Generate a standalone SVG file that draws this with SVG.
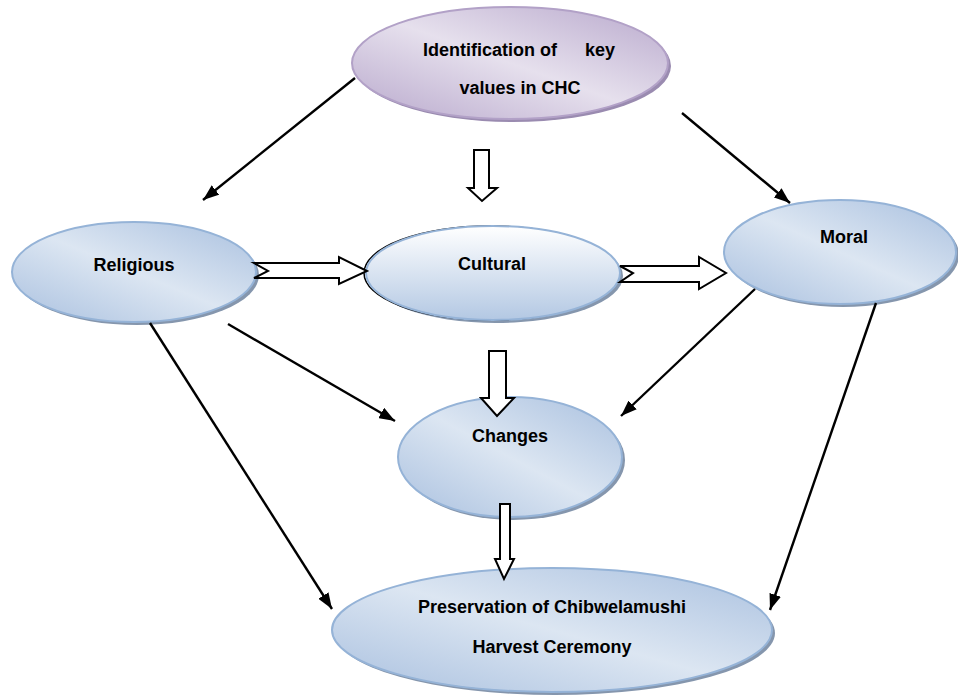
<svg xmlns="http://www.w3.org/2000/svg" width="958" height="697" viewBox="0 0 958 697">
<defs>
<linearGradient id="gBlue" x1="0" y1="1" x2="1" y2="0">
<stop offset="0" stop-color="#a9c0df"/>
<stop offset="0.5" stop-color="#dce6f2"/>
<stop offset="1" stop-color="#a9c0df"/>
</linearGradient>
<linearGradient id="gPurple" x1="0" y1="1" x2="1" y2="0">
<stop offset="0" stop-color="#b8a8cc"/>
<stop offset="0.5" stop-color="#e6e0ed"/>
<stop offset="1" stop-color="#b8a8cc"/>
</linearGradient>
<linearGradient id="gCult" x1="0" y1="0" x2="0" y2="1">
<stop offset="0" stop-color="#ffffff"/>
<stop offset="1" stop-color="#b3c8e3"/>
</linearGradient>
<marker id="ah" viewBox="0 0 16 12" refX="16" refY="6" markerWidth="16" markerHeight="12" markerUnits="userSpaceOnUse" orient="auto">
<path d="M0,0 L16,6 L0,12 Z" fill="#000"/>
</marker>
</defs>
<style>
.lbl{font-family:"Liberation Sans",Arial,sans-serif;font-weight:bold;font-size:18px;fill:#000;text-anchor:middle}
.shadow{fill:#8596ad}
.blue{fill:url(#gBlue);stroke:#95b3d7;stroke-width:2}
.line{stroke:#000;stroke-width:2.4;fill:none;marker-end:url(#ah)}
.block{fill:#fff;stroke:#000;stroke-width:2;stroke-linejoin:miter}
</style>
<rect width="958" height="697" fill="#fff"/>

<g id="node-identification">
<ellipse cx="513" cy="66" rx="158" ry="56" fill="#9a8bb0"/>
<ellipse cx="510" cy="63" rx="158" ry="56" fill="url(#gPurple)" stroke="#b2a1c7" stroke-width="2"/>
<text class="lbl" x="490" y="56">Identification of</text>
<text class="lbl" x="600" y="56">key</text>
<text class="lbl" x="520" y="94">values in CHC</text>
</g>

<g id="node-religious">
<ellipse class="shadow" cx="137" cy="275" rx="122" ry="50"/>
<ellipse class="blue" cx="134" cy="272" rx="122" ry="50"/>
<text class="lbl" x="134" y="271">Religious</text>
</g>

<g id="node-cultural">
<ellipse class="shadow" cx="496" cy="276" rx="127" ry="47"/>
<ellipse cx="491" cy="273" rx="127" ry="47" fill="none" stroke="#000" stroke-width="1.5"/>
<ellipse cx="493" cy="273" rx="127" ry="47" fill="url(#gCult)" stroke="#95b3d7" stroke-width="2"/>
<text class="lbl" x="492" y="270">Cultural</text>
</g>

<g id="node-moral">
<ellipse class="shadow" cx="843" cy="255" rx="116" ry="52"/>
<ellipse class="blue" cx="840" cy="252" rx="116" ry="52"/>
<text class="lbl" x="844" y="243">Moral</text>
</g>

<g id="node-changes">
<ellipse class="shadow" cx="513" cy="460" rx="112" ry="60"/>
<ellipse class="blue" cx="510" cy="457" rx="112" ry="60"/>
<text class="lbl" x="510" y="442">Changes</text>
</g>

<g id="node-preservation">
<ellipse class="shadow" cx="555" cy="633" rx="220" ry="62"/>
<ellipse class="blue" cx="552" cy="630" rx="220" ry="62"/>
<text class="lbl" x="552" y="613">Preservation of Chibwelamushi</text>
<text class="lbl" x="552" y="653">Harvest Ceremony</text>
</g>

<g id="connectors">
<line class="line" x1="355" y1="78" x2="203" y2="200"/>
<line class="line" x1="682" y1="113" x2="790" y2="203"/>
<line class="line" x1="228" y1="324" x2="395" y2="421"/>
<line class="line" x1="150" y1="323" x2="332" y2="609"/>
<line class="line" x1="755" y1="289" x2="621" y2="416"/>
<line class="line" x1="876" y1="303" x2="770" y2="610"/>
<polygon class="block" points="474,150 489,150 489,188 497,188 482,201 468,188 474,188"/>
<polygon class="block" points="254,263 339,263 339,257 367,271 339,284 339,278 254,278 268,271"/>
<polygon class="block" points="620,266 699,266 699,257 726,273 699,289 699,282 620,282 633,273"/>
<polygon class="block" points="489,351 506,351 506,398 514,398 497,416 481,398 489,398"/>
<polygon class="block" points="500,504 510,504 510,559 514,559 504,579 495,559 500,559"/>
</g>
</svg>
